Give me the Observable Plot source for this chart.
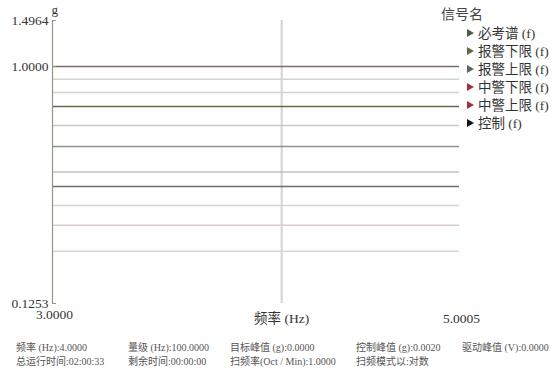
<!DOCTYPE html>
<html>
<head>
<meta charset="utf-8">
<script src="https://cdn.jsdelivr.net/npm/d3@7"></script>
<script src="https://cdn.jsdelivr.net/npm/@observablehq/plot@0.6"></script>
<style>
  body { margin: 0; background: #fff; }
  #chart {
    position: relative; width: 553px; height: 369px; overflow: hidden;
    font-family: "Liberation Serif", "Noto Sans CJK SC", serif; color: #333;
  }
  #chart svg { position: absolute; left: 0; top: 0; }
  .legend-title { position: absolute; left: 441px; top: 6px; font-size: 14px; line-height: 18px; color: #444; }
  .legend-item { position: absolute; left: 467px; font-size: 13.5px; line-height: 18px; white-space: nowrap; color: #333; }
  .legend-item .mark {
    display: inline-block; width: 0; height: 0; margin-right: 4px; vertical-align: 1px;
    border-left: 7px solid #333; border-top: 4px solid transparent; border-bottom: 4px solid transparent;
  }
  .status { position: absolute; font-size: 10px; line-height: 12px; white-space: nowrap; color: #555; }
</style>
</head>
<body>
<div id="chart"></div>
<script>
// Sweep range and amplitude range shown on the chart
const freqDomain = [3.0, 5.0005];
const gDomain = [0.1253, 1.4964];
const currentFreq = 4.0;
const yTicks = [1.4964, 1.0, 0.1253];

// Constant reference / limit levels (g)
const levels = [1.0, 0.895, 0.796, 0.704, 0.596, 0.496, 0.397, 0.349, 0.296, 0.249, 0.198];

// Signal list
const seriesNames = ["必考谱 (f)", "报警下限 (f)", "报警上限 (f)", "中警下限 (f)", "中警上限 (f)", "控制 (f)"];

// Status bar
const statusLabels = ["频率 (Hz)", "量级 (Hz)", "目标峰值 (g)", "控制峰值 (g)", "驱动峰值 (V)",
                      "总运行时间", "剩余时间", "扫频率(Oct / Min)", "扫频模式以"];
const statusValues = ["4.0000", "100.0000", "0.0000", "0.0020", "0.0000",
                      "02:00:33", "00:00:00", "1.0000", "对数"];

// Styling
const levelStrokes = ["#7b6d6c", "#d3d3d3", "#d3d3d3", "#656c4c", "#c9c9c9", "#8a948e",
                      "#c2c2c2", "#6c7263", "#d3d3d3", "#dccbcc", "#d6d6d6"];
const legendColors = ["#4d5c4d", "#5c6b45", "#586858", "#a3303e", "#a3303e", "#111111"];
const statusCols = [16, 128, 230, 356, 462];
const statusRows = [342, 356];

const fmt = d3.format(".4f");
const levelRows = levels.map((g, i) => ({g, stroke: levelStrokes[i]}));

const plot = Plot.plot({
  width: 553,
  height: 330,
  marginLeft: 52,
  marginRight: 94,
  marginTop: 20,
  marginBottom: 27,
  style: {fontFamily: '"Liberation Serif", "Noto Sans CJK SC", serif', fontSize: "13.5px", color: "#333", background: "transparent"},
  x: {type: "log", domain: freqDomain, axis: null},
  y: {type: "log", domain: gDomain, axis: null},
  color: {type: "identity"},
  marks: [
    Plot.ruleX([currentFreq], {stroke: "#d2d2d2", strokeWidth: 2}),
    Plot.ruleY(levelRows, {y: "g", stroke: "stroke", strokeWidth: 1.5}),
    Plot.ruleX([freqDomain[0]], {stroke: "#8d9a86", strokeWidth: 1.2}),
    Plot.axisY({ticks: yTicks, tickSize: -4, tickPadding: 8, tickFormat: fmt, stroke: "#8d9a86", label: null, fill: "#333", fontSize: 13.5}),
    Plot.text(["g"], {frameAnchor: "top-left", dx: -1, dy: -16, fontSize: 13, fill: "#333"}),
    Plot.text([freqDomain[0]], {x: d => d, frameAnchor: "bottom", dx: 2, dy: 15, text: fmt, fill: "#333"}),
    Plot.text([freqDomain[1]], {x: d => d, frameAnchor: "bottom", dx: 2, dy: 19, text: fmt, fill: "#333"}),
    Plot.text([currentFreq], {x: d => d, frameAnchor: "bottom", dy: 19, text: () => "频率 (Hz)", fill: "#333"})
  ]
});

const chart = document.getElementById("chart");
chart.appendChild(plot);

// Signal legend
const title = document.createElement("div");
title.className = "legend-title";
title.textContent = "信号名";
chart.appendChild(title);
seriesNames.forEach((name, i) => {
  const item = document.createElement("div");
  item.className = "legend-item";
  item.style.top = (25 + i * 17.9) + "px";
  const mark = document.createElement("span");
  mark.className = "mark";
  mark.style.borderLeftColor = legendColors[i];
  item.appendChild(mark);
  item.appendChild(document.createTextNode(name));
  chart.appendChild(item);
});

// Status bar
statusLabels.forEach((label, i) => {
  const div = document.createElement("div");
  div.className = "status";
  div.style.left = statusCols[i % 5] + "px";
  div.style.top = statusRows[Math.floor(i / 5)] + "px";
  div.textContent = label + ":" + statusValues[i];
  chart.appendChild(div);
});
</script>
</body>
</html>
